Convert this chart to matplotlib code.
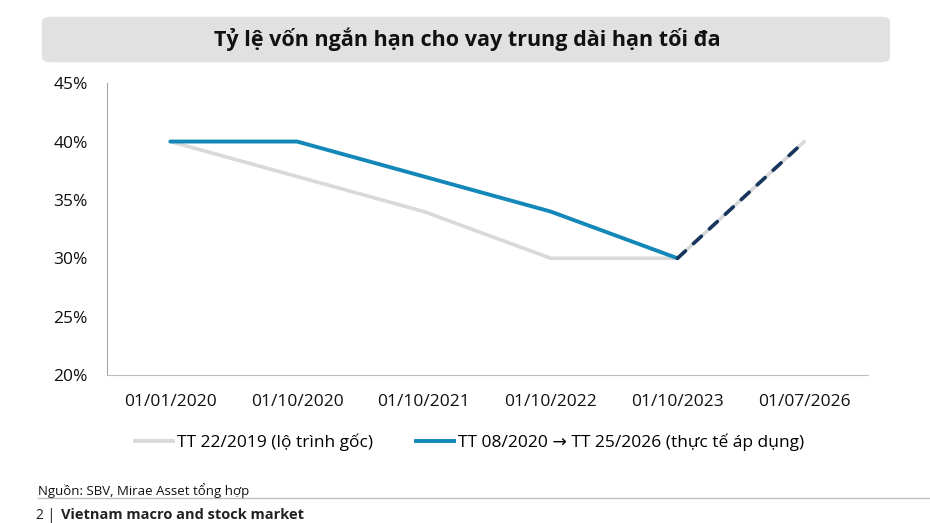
import matplotlib.pyplot as plt
from matplotlib.patches import FancyBboxPatch
from matplotlib.lines import Line2D

plt.rcParams["font.family"] = ["Open Sans", "DejaVu Sans"]

categories = ["01/01/2020", "01/10/2020", "01/10/2021", "01/10/2022", "01/10/2023", "01/07/2026"]
original_plan = [40, 37, 34, 30, 30, 40]
actual = [40, 40, 37, 34, 30]
actual_projected = [30, 40]

title = "Tỷ lệ vốn ngắn hạn cho vay trung dài hạn tối đa"
label_original = "TT 22/2019 (lộ trình gốc)"
label_actual = "TT 08/2020 → TT 25/2026 (thực tế áp dụng)"
source = "Nguồn: SBV, Mirae Asset tổng hợp"

GRAY = "#d9d9d9"
BLUE = "#1287b8"
NAVY = "#17365d"

fig = plt.figure(figsize=(9.3, 5.23), dpi=100)

# title box
box = FancyBboxPatch((0.045, 0.881), 0.912, 0.087, boxstyle="round,pad=0,rounding_size=0.01",
                     transform=fig.transFigure, facecolor="#e1e1e1", edgecolor="none")
fig.patches.append(box)
fig.text(0.502, 0.924, title, ha="center", va="center", fontsize=15.5, fontweight="bold",
         color="#111111")

ax = fig.add_axes([0.115, 0.283, 0.818, 0.558])
x = list(range(len(categories)))
ax.plot(x, original_plan, color=GRAY, lw=2.6, solid_capstyle="round", zorder=2)
ax.plot(x[:len(actual)], actual, color=BLUE, lw=2.8, solid_capstyle="round", zorder=3)
ax.plot(x[len(actual) - 1:], actual_projected, color=NAVY, lw=2.6, linestyle=(0, (3, 3)),
        dash_capstyle="round", zorder=4)

ax.set_xlim(-0.5, len(categories) - 0.5)
ax.set_ylim(20, 45)
ax.set_yticks([20, 25, 30, 35, 40, 45])
ax.set_yticklabels([f"{v}%" for v in [20, 25, 30, 35, 40, 45]])
ax.set_xticks(x)
ax.set_xticklabels(categories)
ax.tick_params(length=0, labelsize=12.5, colors="#111111")
ax.tick_params(axis="y", pad=14)
ax.tick_params(axis="x", pad=14)
for s in ["top", "right"]:
    ax.spines[s].set_visible(False)
ax.spines["left"].set_color("#a6a6a6")
ax.spines["bottom"].set_color("#bfbfbf")

handles = [Line2D([], [], color=GRAY, lw=2.8), Line2D([], [], color=BLUE, lw=2.8)]
fig.legend(handles, [label_original, label_actual], loc="center", bbox_to_anchor=(0.505, 0.155),
           ncol=2, frameon=False, fontsize=12.5, handlelength=2.2, handletextpad=0.2,
           columnspacing=2.5)

fig.text(0.041, 0.063, source, fontsize=9.5, va="center", color="#111111")
fig.add_artist(Line2D([0.041, 1.0], [0.048, 0.048], color="#bfbfbf", lw=1,
                      transform=fig.transFigure))
fig.text(0.039, 0.015, "2 | ", fontsize=10, va="center", color="#222222")
fig.text(0.066, 0.015, "Vietnam macro and stock market", fontsize=10.5, va="center",
         fontweight="bold", color="#222222")

fig.savefig("out.png", dpi=100)
